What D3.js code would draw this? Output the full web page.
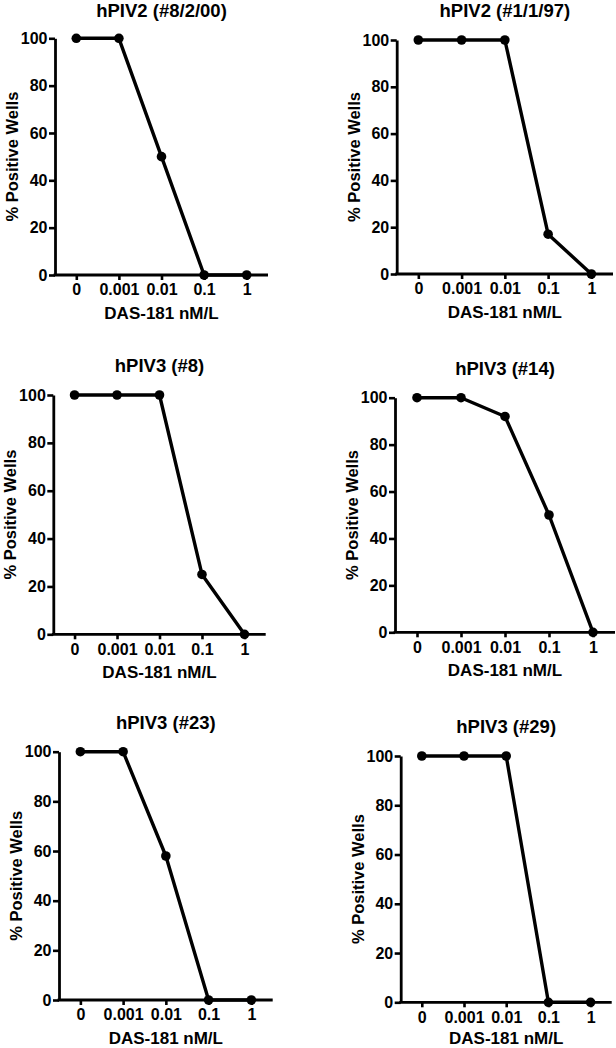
<!DOCTYPE html>
<html>
<head>
<meta charset="utf-8">
<script src="https://cdn.jsdelivr.net/npm/d3@7"></script>
<style>
  html, body { margin: 0; padding: 0; background: #fff; }
  svg { display: block; }
  text { font-family: "Liberation Sans", Arial, "DejaVu Sans", sans-serif; font-weight: bold; fill: #000; }
</style>
</head>
<body>
<svg id="chart" width="616" height="1048"></svg>
<script>
// ---- Data ----
const doses = ["0", "0.001", "0.01", "0.1", "1"];
const yTicks = [0, 20, 40, 60, 80, 100];
const titles = ["hPIV2 (#8/2/00)", "hPIV2 (#1/1/97)", "hPIV3 (#8)", "hPIV3 (#14)", "hPIV3 (#23)", "hPIV3 (#29)"];
const hPIV2_8_2_00 = [100, 100, 50, 0, 0];
const hPIV2_1_1_97 = [100, 100, 100, 17, 0];
const hPIV3_8 = [100, 100, 100, 25, 0];
const hPIV3_14 = [100, 100, 92, 50, 0];
const hPIV3_23 = [100, 100, 58, 0, 0];
const hPIV3_29 = [100, 100, 100, 0, 0];
const xTitle = "DAS-181 nM/L";
const yTitle = "% Positive Wells";

const series = [hPIV2_8_2_00, hPIV2_1_1_97, hPIV3_8, hPIV3_14, hPIV3_23, hPIV3_29];

// ---- Layout (pixel frames of each panel's axes) ----
const frames = [
  { left: 55,    right: 268,   top: 38.3,  bottom: 275 },
  { left: 396.7, right: 613,   top: 40,    bottom: 274 },
  { left: 53.3,  right: 265.7, top: 395,   bottom: 634.3 },
  { left: 395,   right: 615,   top: 397.7, bottom: 632.3 },
  { left: 59,    right: 272.7, top: 751.7, bottom: 1000 },
  { left: 400.7, right: 611.7, top: 756,   bottom: 1002.3 }
];

const svg = d3.select("#chart");

frames.forEach((f, i) => {
  const g = svg.append("g");
  const x = d3.scalePoint().domain(doses).range([f.left, f.right]).padding(0.5);
  const y = d3.scaleLinear().domain([0, 100]).range([f.bottom, f.top]);

  // Y axis
  const ya = g.append("g")
    .attr("transform", `translate(${f.left},0)`)
    .call(d3.axisLeft(y).tickValues(yTicks).tickFormat(d3.format("d")).tickSize(6).tickSizeOuter(0).tickPadding(1.5));
  // X axis
  const xa = g.append("g")
    .attr("transform", `translate(0,${f.bottom})`)
    .call(d3.axisBottom(x).tickSize(5).tickSizeOuter(0).tickPadding(4));

  [ya, xa].forEach(a => {
    a.select(".domain").attr("stroke", "#000").attr("stroke-width", 2.8);
    a.selectAll(".tick line").attr("stroke", "#000").attr("stroke-width", 2.6);
    a.selectAll(".tick text")
      .style("font-family", '"Liberation Sans", Arial, sans-serif')
      .style("font-weight", "bold")
      .style("font-size", "16px")
      .attr("fill", "#000");
  });
  // extend x domain line to start exactly at y axis
  xa.select(".domain").attr("d", `M${f.left - 1.4},0H${f.right}`);

  // Title (kept inside the canvas)
  g.append("text")
    .attr("x", (f.left + f.right) / 2)
    .attr("y", Math.max(f.top - 23, 16.5))
    .attr("text-anchor", "middle")
    .style("font-size", "18.5px")
    .text(titles[i]);

  // X title (kept inside the canvas)
  g.append("text")
    .attr("x", (f.left + f.right) / 2)
    .attr("y", Math.min(f.bottom + 44, 1044))
    .attr("text-anchor", "middle")
    .style("font-size", "17px")
    .text(xTitle);

  // Y title
  const cy = (f.top + f.bottom) / 2;
  g.append("text")
    .attr("transform", `translate(${f.left - 37},${cy}) rotate(-90)`)
    .attr("text-anchor", "middle")
    .style("font-size", "16.5px")
    .text(yTitle);

  // Line
  const line = d3.line().x((d, j) => x(doses[j])).y(d => y(d));
  g.append("path")
    .datum(series[i])
    .attr("d", line)
    .attr("fill", "none")
    .attr("stroke", "#000")
    .attr("stroke-width", 3.4)
    .attr("stroke-linejoin", "round");

  // Points
  g.selectAll("circle")
    .data(series[i])
    .join("circle")
    .attr("cx", (d, j) => x(doses[j]))
    .attr("cy", d => y(d))
    .attr("r", 4.8)
    .attr("fill", "#000");
});
</script>
</body>
</html>
